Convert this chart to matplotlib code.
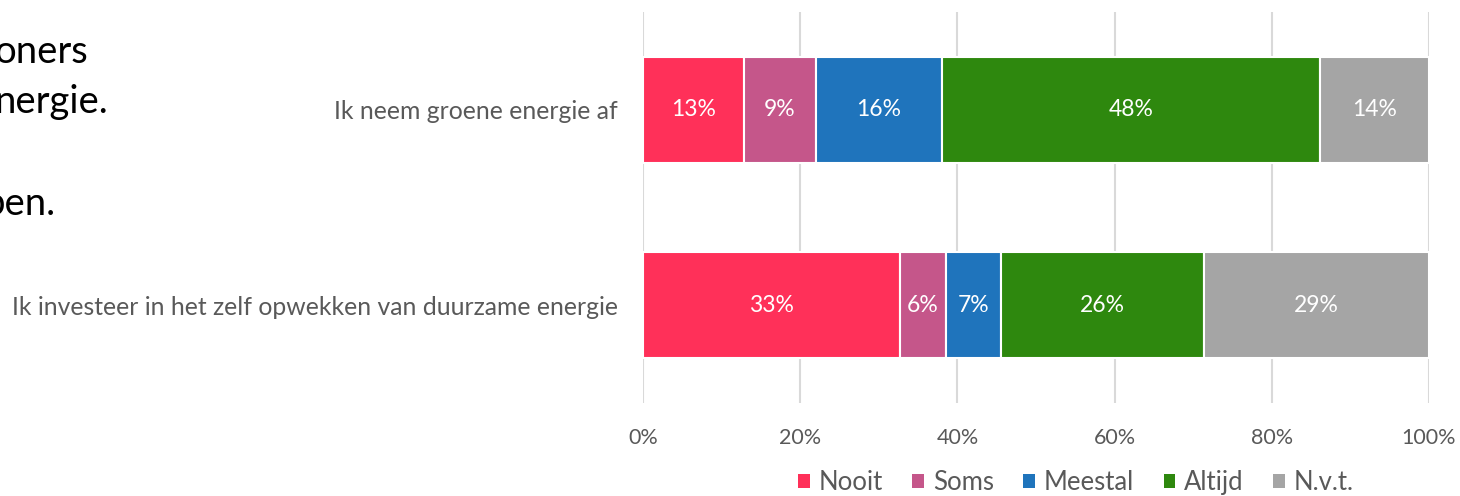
import matplotlib
matplotlib.use("Agg")
import matplotlib.pyplot as plt
from matplotlib.patches import Patch
import numpy as np

plt.rcParams['font.family'] = ['Lato', 'DejaVu Sans']

categories = ["Ik investeer in het zelf opwekken van duurzame energie",
              "Ik neem groene energie af"]
series = ["Nooit", "Soms", "Meestal", "Altijd", "N.v.t."]
values = {
    "Nooit":   [32.7, 12.8],
    "Soms":    [5.8, 9.2],
    "Meestal": [7.0, 16.0],
    "Altijd":  [25.9, 48.1],
    "N.v.t.":  [28.6, 13.9],
}
labels = {
    "Nooit":   ["33%", "13%"],
    "Soms":    ["6%", "9%"],
    "Meestal": ["7%", "16%"],
    "Altijd":  ["26%", "48%"],
    "N.v.t.":  ["29%", "14%"],
}
colors = ["#FF3059", "#C5568A", "#1F74BC", "#2E880E", "#A5A5A5"]
xticks = [0, 20, 40, 60, 80, 100]
xticklabels = ["0%", "20%", "40%", "60%", "80%", "100%"]
side_text = ["oners", "nergie.", "pen."]

W, H = 1460, 496
fig = plt.figure(figsize=(W / 100, H / 100), dpi=100)
ax = fig.add_axes([643 / W, 1 - 403 / H, (1429 - 643) / W, (403 - 12) / H])

y = np.arange(len(categories))
left = np.zeros(len(categories))
for s, c in zip(series, colors):
    v = np.array(values[s])
    bars = ax.barh(y, v, left=left, height=0.54, color=c, edgecolor="white",
                   linewidth=1.5, zorder=3)
    for b, lab in zip(bars, labels[s]):
        ax.text(b.get_x() + b.get_width() / 2, b.get_y() + b.get_height() / 2,
                lab, ha="center", va="center", color="white", fontsize=16.5, zorder=4)
    left += v

ax.set_xlim(0, 100)
ax.set_ylim(-0.5, 1.5)
ax.set_xticks(xticks)
ax.set_xticklabels(xticklabels, fontsize=15.5, color="#595959")
ax.set_yticks(y)
ax.set_yticklabels(categories, fontsize=17.8, color="#595959")
ax.tick_params(axis="both", length=0)
ax.tick_params(axis="x", pad=18)
ax.tick_params(axis="y", pad=18)
ax.grid(axis="x", color="#D9D9D9", linewidth=1.5, zorder=0)
for sp in ax.spines.values():
    sp.set_visible(False)

handles = [Patch(facecolor=c, label=s) for s, c in zip(series, colors)]
leg = fig.legend(handles=handles, loc="center", bbox_to_anchor=(1076 / W, 1 - 482.5 / H),
                 ncol=5, frameon=False, fontsize=18.5, handlelength=0.45, handleheight=0.45,
                 handletextpad=0.35, columnspacing=1.15, borderpad=0, borderaxespad=0)
for t in leg.get_texts():
    t.set_color("#595959")

text_right = [88, 108, 55]
text_base = [63, 113, 215]
for t, xx, yy in zip(side_text, text_right, text_base):
    fig.text(xx / W, 1 - yy / H, t, ha="right", va="baseline", fontsize=27.5, color="black")

fig.savefig("out.png", dpi=100)
